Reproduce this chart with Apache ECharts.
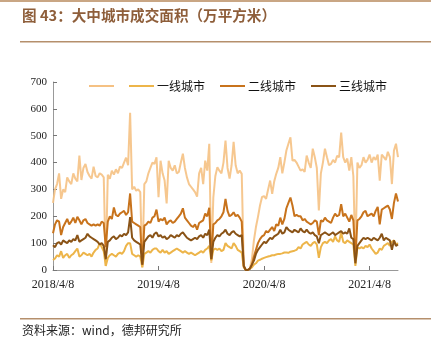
<!DOCTYPE html>
<html>
<head>
<meta charset="utf-8">
<script src="https://cdn.jsdelivr.net/npm/echarts@6/dist/echarts.min.js"></script>
<style>
  html, body { margin: 0; padding: 0; background: #fff; }
  #chart { width: 431px; height: 344px; }
</style>
</head>
<body>
<div id="chart"></div>
<script>
// Weekly transaction area (10k m²), weeks starting 2018/4/8
const startDate = '2018/4/8';
const weekCount = 171;
const tickLabels = ['2018/4/8', '2019/4/8', '2020/4/8', '2021/4/8'];
const seriesNames = ['大中城市', '一线城市', '二线城市', '三线城市'];

const totalCities = [
  250, 300, 320, 360, 265, 300, 290, 345, 330, 320, 360, 340, 330, 426, 335, 380, 395, 365, 350, 340,
  385, 350, 345, 360, 355, 345, 15, 355, 340, 370, 355, 375, 360, 385, 380, 400, 418, 390, 585, 300,
  310, 295, 300, 290, 10, 320, 330, 360, 380, 400, 395, 420, 271, 407, 360, 333, 248, 407, 380, 370,
  390, 360, 365, 400, 433, 380, 345, 320, 310, 300, 290, 273, 360, 380, 320, 407, 370, 470, 26, 270,
  350, 383, 370, 360, 400, 482, 380, 340, 390, 477, 390, 360, 370, 358, 15, 0, 0, 5, 40, 110,
  160, 198, 240, 272, 275, 265, 300, 333, 284, 330, 358, 380, 420, 360, 400, 445, 470, 494, 407, 410,
  400, 385, 370, 375, 365, 426, 400, 380, 452, 420, 380, 222, 360, 400, 452, 420, 390, 395, 410, 400,
  425, 420, 512, 420, 400, 415, 370, 420, 350, 45, 400, 380, 390, 420, 400, 410, 430, 400, 420, 410,
  430, 333, 430, 420, 410, 440, 420, 320, 445, 470, 420
];
const tier1 = [
  37, 43, 55, 50, 70, 45, 55, 60, 45, 55, 60, 70, 80, 50, 55, 65, 60, 55, 60, 50,
  65, 75, 80, 100, 85, 70, 15, 45, 55, 60, 55, 50, 60, 65, 60, 70, 90, 100, 100, 60,
  55, 50, 55, 50, 10, 60, 65, 70, 65, 75, 80, 80, 70, 65, 75, 65, 70, 60, 65, 70,
  75, 80, 75, 70, 65, 70, 65, 60, 65, 60, 55, 60, 65, 70, 65, 75, 80, 90, 35, 75,
  80, 75, 80, 70, 75, 100, 90, 85, 80, 100, 90, 75, 70, 65, 10, 0, 0, 5, 10, 20,
  25, 35, 38, 42, 45, 48, 50, 52, 55, 55, 58, 60, 60, 62, 65, 65, 64, 68, 70, 72,
  75, 85, 80, 95, 100, 105, 95, 90, 100, 105, 95, 45, 85, 100, 105, 100, 110, 115, 105, 125,
  110, 105, 140, 105, 100, 110, 105, 100, 95, 15, 85, 80, 85, 80, 90, 85, 95, 80, 70, 60,
  65, 80, 75, 90, 95, 100, 90, 105, 110, 95, 100
];
const tier2 = [
  137, 170, 185, 180, 130, 160, 175, 190, 170, 180, 195, 175, 198, 185, 170, 185, 190, 175, 170, 165,
  170, 165, 170, 165, 180, 175, 85, 180, 200, 190, 233, 205, 200, 210, 215, 220, 205, 215, 285, 180,
  175, 170, 165, 160, 20, 165, 170, 180, 175, 195, 200, 225, 180, 190, 185, 195, 170, 180, 185, 175,
  180, 190, 200, 210, 230, 195, 185, 175, 165, 160, 170, 150, 175, 180, 185, 210, 200, 232, 40, 170,
  175, 185, 190, 200, 215, 265, 220, 200, 205, 215, 200, 205, 195, 180, 15, 0, 0, 5, 20, 50,
  75, 100, 115, 125, 130, 145, 140, 150, 160, 145, 170, 165, 195, 170, 190, 230, 250, 270, 240, 200,
  205, 200, 200, 185, 190, 180, 175, 170, 175, 185, 180, 130, 185, 180, 195, 185, 180, 175, 195, 210,
  200, 205, 245, 200, 210, 195, 180, 205, 185, 40, 185, 190, 200, 215, 220, 200, 205, 210, 200, 220,
  235, 170, 225, 230, 235, 240, 225, 190, 250, 285, 255
];
const tier3 = [
  92, 85, 100, 104, 95, 110, 105, 100, 110, 105, 115, 110, 130, 105, 110, 115, 120, 135, 125, 120,
  115, 110, 105, 95, 100, 90, 40, 105, 110, 120, 125, 115, 120, 130, 125, 135, 130, 140, 197, 120,
  110, 105, 100, 95, 20, 105, 115, 125, 130, 120, 135, 140, 125, 130, 120, 125, 115, 120, 130, 125,
  120, 130, 125, 135, 140, 130, 120, 115, 110, 115, 120, 115, 125, 130, 120, 135, 130, 150, 40, 105,
  120, 130, 125, 135, 140, 150, 135, 130, 140, 145, 135, 130, 125, 130, 15, 0, 0, 5, 20, 35,
  60, 75, 85, 95, 105, 100, 110, 120, 115, 125, 130, 135, 150, 135, 140, 160, 150, 145, 140, 150,
  145, 140, 155, 145, 140, 150, 140, 135, 140, 130, 125, 100, 130, 135, 140, 135, 130, 135, 140, 130,
  135, 140, 145, 135, 140, 135, 155, 120, 115, 25, 90, 100, 110, 120, 115, 120, 115, 110, 120, 115,
  110, 120, 135, 110, 120, 115, 110, 75, 110, 90, 95
];

// Weekly date categories
const dates = [];
{
  const [y, m, d] = startDate.split('/').map(Number);
  const t0 = Date.UTC(y, m - 1, d);
  for (let i = 0; i < weekCount; i++) {
    const t = new Date(t0 + i * 7 * 86400000);
    dates.push(t.getUTCFullYear() + '/' + (t.getUTCMonth() + 1) + '/' + t.getUTCDate());
  }
}

const colors = ['#F5C183', '#EDB54A', '#C8731C', '#8A5316'];
const values = [totalCities, tier1, tier2, tier3];

const chart = echarts.init(document.getElementById('chart'), null, { renderer: 'canvas' });

chart.setOption({
  animation: false,
  backgroundColor: '#fff',
  grid: { left: 53, right: 33, top: 82, bottom: 74 },
  legend: {
    left: 84,
    top: 75,
    itemWidth: 25,
    itemHeight: 10,
    itemGap: 15,
    icon: 'path://M0,4 L25,4 L25,6 L0,6 Z',
    formatter: name => (name === seriesNames[0] ? '' : name),
    textStyle: { fontFamily: 'Noto Sans CJK SC', fontSize: 12, color: '#111', padding: [0, 0, 0, -2] },
    data: seriesNames
  },
  xAxis: {
    type: 'category',
    data: dates,
    boundaryGap: false,
    axisLine: { lineStyle: { color: '#999', width: 1 } },
    axisTick: {
      inside: true,
      length: 4,
      lineStyle: { color: '#777' },
      interval: (idx) => idx % 52 === 0
    },
    axisLabel: {
      interval: (idx) => idx % 52 === 0,
      formatter: (v, idx) => tickLabels[Math.round(idx / 52)] || '',
      fontFamily: 'Liberation Serif',
      fontSize: 12,
      color: '#222',
      margin: 9
    },
    splitLine: { show: false }
  },
  yAxis: {
    type: 'value',
    min: 0,
    max: 700,
    interval: 100,
    axisLine: { show: true, lineStyle: { color: '#999', width: 1 } },
    axisTick: { show: true, inside: true, length: 4, lineStyle: { color: '#777' } },
    axisLabel: { fontFamily: 'Liberation Serif', fontSize: 11, color: '#222', margin: 6 },
    splitLine: { show: false }
  },
  series: seriesNames.map((name, k) => ({
    name,
    type: 'line',
    data: values[k],
    symbol: 'none',
    smooth: false,
    lineStyle: { width: 2, color: colors[k], opacity: k === 0 ? 0.9 : 1 },
    itemStyle: { color: colors[k] },
    z: 2 + k
  })),
  graphic: [
    { type: 'rect', left: 0, top: 0, shape: { width: 431, height: 2 }, style: { fill: '#C9A684' } },
    {
      type: 'text', left: 22, top: 8,
      style: {
        text: '图 43：大中城市成交面积（万平方米）',
        font: 'bold 14.6px "Noto Sans CJK SC"',
        fill: '#8E5E3A'
      }
    },
    { type: 'rect', left: 20, top: 41, shape: { width: 411, height: 1.5 }, style: { fill: '#B58F6C' } },
    { type: 'rect', left: 20, top: 318, shape: { width: 411, height: 1.5 }, style: { fill: '#B58F6C' } },
    {
      type: 'text', left: 22, top: 324,
      style: {
        text: '资料来源：wind，德邦研究所',
        font: '12px "Noto Sans CJK SC"',
        fill: '#222'
      }
    }
  ]
});
</script>
</body>
</html>
